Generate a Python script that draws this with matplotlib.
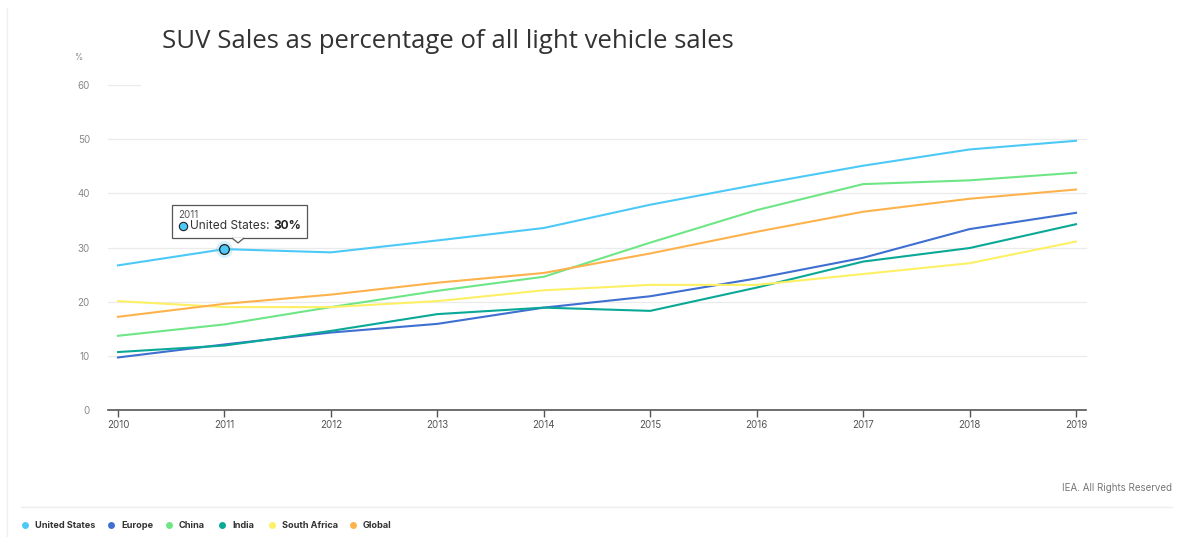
import matplotlib.pyplot as plt
from matplotlib.patches import Rectangle, Polygon
from matplotlib.lines import Line2D

years = [2010, 2011, 2012, 2013, 2014, 2015, 2016, 2017, 2018, 2019]
united_states = [26.7, 29.7, 29.1, 31.3, 33.6, 37.9, 41.6, 45.1, 48.1, 49.7]
europe = [9.7, 12.1, 14.3, 15.9, 18.9, 21.0, 24.3, 28.1, 33.4, 36.4]
china = [13.7, 15.8, 19.0, 22.0, 24.6, 30.9, 36.9, 41.7, 42.4, 43.8]
india = [10.7, 11.9, 14.6, 17.7, 18.9, 18.3, 22.6, 27.4, 29.9, 34.3]
south_africa = [20.1, 19.0, 19.0, 20.1, 22.1, 23.1, 23.1, 25.1, 27.1, 31.1]
global_ = [17.2, 19.6, 21.3, 23.5, 25.3, 28.9, 32.9, 36.6, 39.0, 40.7]

series = [
    ("United States", united_states, "#4cc9f6"),
    ("Europe", europe, "#3f6fd0"),
    ("China", china, "#6ee686"),
    ("India", india, "#0aa896"),
    ("South Africa", south_africa, "#fdf065"),
    ("Global", global_, "#fdb24c"),
]
yticks = [0, 10, 20, 30, 40, 50, 60]

W, H = 1187, 537
fig = plt.figure(figsize=(W / 100, H / 100), dpi=100)
FONT = ["Inter", "DejaVu Sans"]


def fx(px):
    return px / W


def fy(py):
    return 1 - py / H


ax = fig.add_axes([fx(108), fy(410), fx(1086) - fx(108), fy(85) - fy(410)])
ax.set_xlim(2010 - 10 / 106.44, 2019 + 10 / 106.44)
ax.set_ylim(0, 60)

for y in yticks[1:]:
    ax.axhline(y, color="#ebebeb", lw=0.9, zorder=0, clip_on=False)

for name, vals, c in series:
    ax.plot(years, vals, color=c, lw=1.5, zorder=3, clip_on=False)

for s in ["top", "right", "left"]:
    ax.spines[s].set_visible(False)
ax.spines["bottom"].set_color("#555555")
ax.spines["bottom"].set_linewidth(1.2)
ax.set_xticks(years)
ax.set_xticklabels([str(y) for y in years], fontsize=7, color="#555555", family=FONT)
ax.tick_params(axis="x", length=5, width=1, color="#555555", pad=2)
ax.set_yticks(yticks)
ax.set_yticklabels([str(y) for y in yticks], fontsize=7, color="#888888", family=FONT)
ax.tick_params(axis="y", length=0, pad=13)

# highlighted point
hx, hy = years[1], united_states[1]
ax.plot(hx, hy, "o", ms=12, color="#4cc9f6", alpha=0.25, zorder=4, mec="none")
ax.plot(hx, hy, "o", ms=7, color="#4cc9f6", mec="#222222", mew=0.9, zorder=5)

# white patch behind the pasted title (hides the 60 gridline)
fig.patches.append(Rectangle((fx(141), fy(87)), fx(1100) - fx(141), fy(18) - fy(87),
                             transform=fig.transFigure, facecolor="white",
                             edgecolor="none", zorder=2))
fig.text(fx(162), fy(42), "SUV Sales as percentage of all light vehicle sales",
         fontsize=18.5, color="#333333", va="center", zorder=5,
         family=["Open Sans", "DejaVu Sans"])
fig.text(fx(74), fy(58), "%", fontsize=6, color="#888888", va="center", family=FONT)

# tooltip
fig.patches.append(Rectangle((fx(172), fy(238)), fx(307) - fx(172), fy(205) - fy(238),
                             transform=fig.transFigure, facecolor="white",
                             edgecolor="#555555", lw=0.9, zorder=10))
fig.patches.append(Polygon([[fx(232), fy(238)], [fx(238), fy(243)], [fx(244), fy(238)]],
                           closed=False, transform=fig.transFigure, facecolor="white",
                           edgecolor="#555555", lw=0.9, zorder=11))
fig.text(fx(178), fy(215), "2011", fontsize=7, color="#555555", va="center",
         family=FONT, zorder=12)
fig.add_artist(Line2D([fx(183)], [fy(226)], marker="o", ms=6, color="#4cc9f6",
                      mec="#222222", mew=0.8, transform=fig.transFigure, zorder=12))
fig.text(fx(190), fy(226), "United States:", fontsize=8.6, color="#333333",
         va="center", family=FONT, zorder=12)
fig.text(fx(273), fy(226), "30%", fontsize=8.6, color="#222222", va="center",
         fontweight="bold", family=FONT, zorder=12)

# footer
fig.text(fx(1172), fy(488), "IEA. All Rights Reserved", fontsize=7, color="#777777",
         ha="right", va="center", family=FONT)
fig.add_artist(Line2D([fx(21), fx(1172)], [fy(507), fy(507)], color="#eeeeee", lw=1))
fig.add_artist(Line2D([fx(7), fx(7)], [fy(8), 0], color="#eeeeee", lw=1))

legend_x = [25, 111, 169, 222, 272, 353]
for (name, vals, c), lx in zip(series, legend_x):
    fig.add_artist(Line2D([fx(lx)], [fy(525)], marker="o", ms=5, color=c, mec="none",
                          transform=fig.transFigure))
    fig.text(fx(lx + 10), fy(525), name, fontsize=6.6, fontweight="bold", color="#333333",
             va="center", family=FONT)

fig.savefig("out.png", dpi=100)
